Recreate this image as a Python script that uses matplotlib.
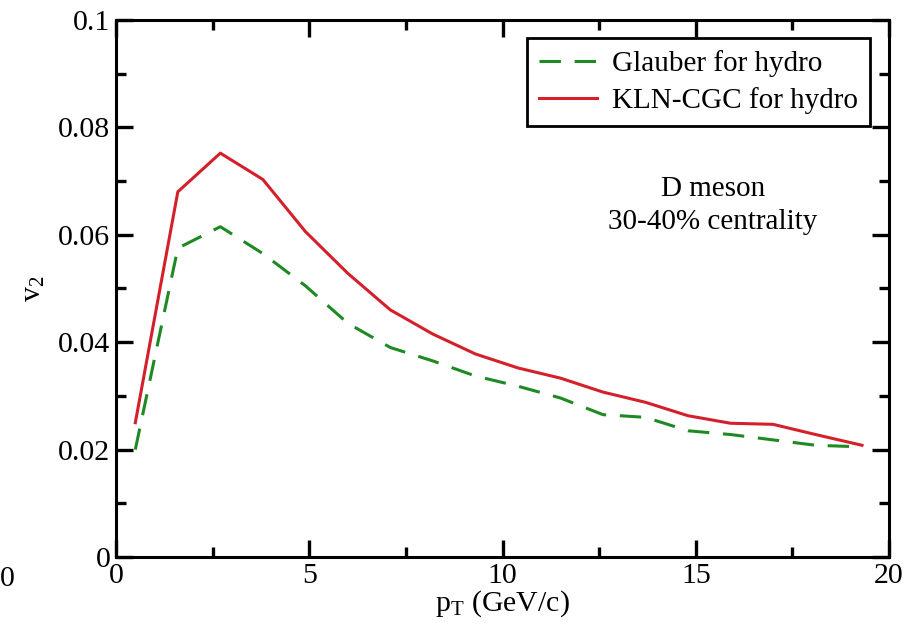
#!/usr/bin/env python3
"""D meson elliptic flow v2 vs pT for two hydro initial conditions."""

import matplotlib.pyplot as plt
from matplotlib.ticker import MultipleLocator

pt = [0.5, 1.6, 2.7, 3.8, 4.9, 6.0, 7.1, 8.2, 9.3, 10.4, 11.5, 12.6, 13.7, 14.8, 15.9, 17.0, 18.1, 19.3]
v2_glauber = [0.0200, 0.0575, 0.0615, 0.0565, 0.0505, 0.0435, 0.0390, 0.0365, 0.0337, 0.0318,
              0.0296, 0.0265, 0.0260, 0.0235, 0.0228, 0.0218, 0.0208, 0.0205]
v2_kln = [0.0250, 0.0680, 0.0752, 0.0703, 0.0606, 0.0528, 0.0460, 0.0415, 0.0378, 0.0352,
          0.0333, 0.0307, 0.0288, 0.0263, 0.0249, 0.0247, 0.0228, 0.0208]

plt.rcParams["font.family"] = ["Liberation Serif", "DejaVu Serif"]
plt.rcParams["mathtext.fontset"] = "custom"
plt.rcParams["mathtext.rm"] = "Liberation Serif"
plt.rcParams["mathtext.it"] = "Liberation Serif"

fig = plt.figure(figsize=(9.19, 6.34), dpi=100)
ax = fig.add_axes([0.1262, 0.1215, 0.8412, 0.847])

ax.plot(pt, v2_glauber, color="#1f8a24", linewidth=2.2, dashes=(7, 4.5), label="Glauber for hydro")
ax.plot(pt, v2_kln, color="#d4202a", linewidth=2.2, label="KLN-CGC for hydro")

ax.set_xlim(0, 20)
ax.set_ylim(0, 0.1)
ax.xaxis.set_major_locator(MultipleLocator(5))
ax.xaxis.set_minor_locator(MultipleLocator(2.5))
ax.yaxis.set_major_locator(MultipleLocator(0.02))
ax.yaxis.set_minor_locator(MultipleLocator(0.01))
ax.yaxis.set_major_formatter(plt.FuncFormatter(lambda v, _: "0" if v == 0 else f"{v:g}"))

ax.tick_params(which="both", direction="in", top=True, right=True, width=2.4, labelsize=21.5)
ax.tick_params(which="major", length=12, pad=4)
ax.tick_params(which="minor", length=7)
for side in ax.spines.values():
    side.set_linewidth(2.2)

ax.set_xlabel(r"p$_\mathrm{T}$ (GeV/c)", fontsize=21.5, labelpad=0)
ax.set_ylabel(r"v$_2$", fontsize=21.5, labelpad=8)

leg = ax.legend(loc="upper right", bbox_to_anchor=(0.975, 0.966), fontsize=21, frameon=True,
                fancybox=False, framealpha=1, edgecolor="black", handlelength=2.0,
                handletextpad=0.5, borderpad=0.4, labelspacing=0.35, borderaxespad=0)
leg.get_frame().set_linewidth(2.0)

ax.text(15.45, 0.0655, "D meson\n30-40% centrality", ha="center", va="center",
        fontsize=21, linespacing=1.35)

# left-over tick label from the neighbouring panel
fig.text(0.0, 0.086, "0", fontsize=21.5, ha="left", va="center")

fig.savefig("out.png", dpi=100)
